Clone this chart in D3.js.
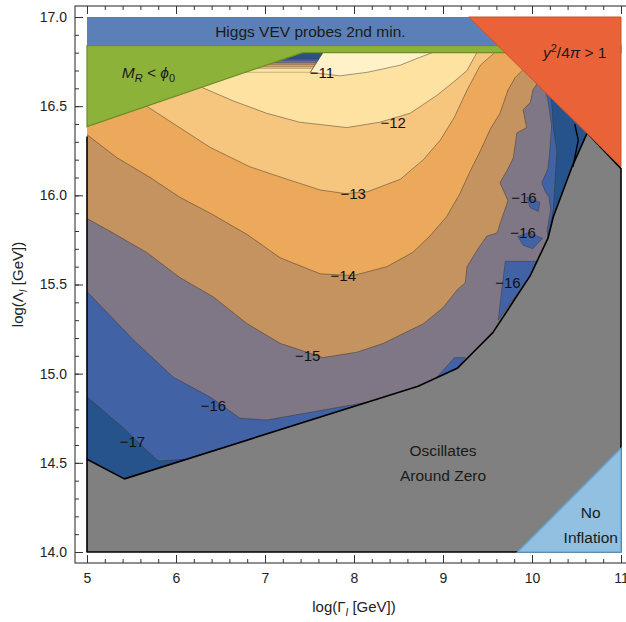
<!DOCTYPE html>
<html>
<head>
<meta charset="utf-8">
<script src="https://cdnjs.cloudflare.com/ajax/libs/d3/7.8.5/d3.min.js"></script>
<style>
  body { margin: 0; background: #fff; }
  text { font-family: "Liberation Sans", Arial, sans-serif; }
</style>
</head>
<body>
<div id="chart"></div>
<script>
// contour lines, points are [log Gamma_I, log Lambda_I]
var c11 = [[7.65,16.80],[7.51,16.69],[7.84,16.67],[8.15,16.69],[8.52,16.73],[8.72,16.77],[8.88,16.80]];
var c12 = [[6.27,16.61],[6.64,16.53],[7.02,16.46],[7.39,16.41],[7.92,16.38],[8.29,16.41],[8.63,16.46],
           [8.93,16.56],[9.13,16.64],[9.27,16.70],[9.38,16.80]];
var c13 = [[5.67,16.50],[6.01,16.39],[6.38,16.27],[6.83,16.16],[7.25,16.09],[7.62,16.03],[7.90,16.01],
           [8.15,16.02],[8.52,16.09],[8.78,16.20],[8.97,16.31],[9.13,16.44],[9.27,16.59],[9.42,16.73],[9.58,16.80]];
var c14 = [[5.00,16.34],[5.34,16.21],[5.71,16.10],[6.04,15.99],[6.42,15.89],[6.80,15.78],[7.17,15.65],
           [7.62,15.56],[7.99,15.55],[8.37,15.60],[8.66,15.68],[8.85,15.77],[9.04,15.88],[9.19,16.01],
           [9.30,16.13],[9.42,16.25],[9.53,16.37],[9.64,16.46],[9.73,16.59],[9.81,16.66],[9.89,16.70]];
var c15 = [[5.00,15.87],[5.29,15.79],[5.67,15.68],[6.04,15.54],[6.42,15.43],[6.80,15.28],[7.17,15.17],
           [7.65,15.09],[8.03,15.12],[8.33,15.17],[8.78,15.28],[9.00,15.37],[9.16,15.47],[9.25,15.51],
           [9.27,15.60],[9.38,15.69],[9.49,15.77],[9.61,15.79],[9.64,15.84],[9.73,15.97],[9.64,16.07],
           [9.72,16.14],[9.79,16.21],[9.83,16.35],[9.94,16.38],[9.90,16.48],[9.98,16.52],[10.01,16.59],[10.09,16.65]];
var c16left = [[5.00,15.46],[5.52,15.19],[5.97,14.98],[6.38,14.87],[6.72,14.75],[7.02,14.74],[8.15,14.84]];
var c16right = [[10.15,16.59],[10.18,16.53],[10.22,16.39],[10.20,16.25],[10.18,16.15],[10.11,16.07],
                [10.15,16.02],[10.19,15.99],[10.21,15.92],[10.17,15.80],[10.18,15.76]];
var c17left = [[5.00,14.87],[5.40,14.70],[5.67,14.57],[5.80,14.51],[6.10,14.52]];
var c17right = [[10.21,16.55],[10.22,16.52],[10.24,16.38],[10.28,16.25],[10.26,16.09],[10.24,15.92],[10.18,15.76]];
// small -16 islands on the right
var islands = [
  [[9.94,15.99],[10.09,15.96],[10.07,15.91],[9.98,15.93]],
  [[9.84,15.77],[9.96,15.79],[10.12,15.76],[10.01,15.70],[9.90,15.72]],
  [[9.70,15.63],[10.05,15.63],[9.98,15.55],[9.62,15.30],[9.66,15.47]],
  [[8.93,14.98],[9.13,15.09],[9.25,15.09],[9.16,15.03]]
];
// the crowded strip of levels under the green wedge
var wedgeEdge = [[7.65,16.80],[7.51,16.69]];
var wedgeBreaks = [16.80,16.765,16.752,16.742,16.732,16.722,16.712,16.69];
// boundary of the "oscillates around zero" region
var blackLine = [[5.00,14.52],[5.42,14.41],[8.72,14.93],[9.16,15.03],[9.36,15.13],[9.56,15.23],
                 [9.98,15.55],[10.18,15.76],[10.24,15.88],[10.45,16.16],[10.62,16.35]];
var blackExtra = [[10.48,16.40],[10.52,16.31],[10.46,16.16]];
// excluded regions
var higgsBand = [[5,17],[11,17],[11,16.84],[5,16.84]];
var greenRegion = [[5,16.84],[11,16.84],[11,16.80],[7.42,16.80],[5,16.385]];
var couplingTri = [[9.29,17],[11,17],[11,16.16]];
var noInflTri = [[9.84,14],[11,14.58],[11,14]];

var contourLabels = [
  ["\u221211", 7.64, 16.69], ["\u221212", 8.44, 16.41], ["\u221213", 7.99, 16.01], ["\u221214", 7.88, 15.55],
  ["\u221215", 7.48, 15.10], ["\u221216", 6.42, 14.82], ["\u221217", 5.51, 14.62],
  ["\u221216", 9.91, 15.99], ["\u221216", 9.90, 15.79], ["\u221216", 9.73, 15.51]
];
var xTicks = [5, 6, 7, 8, 9, 10, 11];
var yTicks = [14.0, 14.5, 15.0, 15.5, 16.0, 16.5, 17.0];

var svgWidth = 626;
var svgHeight = 622;

var colors = {
  dark: "#27538d", med: "#4163a6", purple: "#807786", tan: "#c59360", orange: "#eca95b",
  lightOrange: "#f6c67f", pale: "#fde2a1", palest: "#fff2c8"
};

var svg = d3.select("#chart").append("svg")
    .attr("width", svgWidth)
    .attr("height", svgHeight);

var x = d3.scaleLinear().domain([5, 11]).range([87, 621]);
var y = d3.scaleLinear().domain([14, 17]).range([552, 17]);
var frame = {left: 75, right: 633, top: 6, bottom: 563};

var line = d3.line().x(d => x(d[0])).y(d => y(d[1]));
function poly(pts) { return line(pts) + "Z"; }

svg.append("clipPath").attr("id", "clip")
  .append("rect").attr("x", x(5)).attr("y", y(17))
  .attr("width", x(11) - x(5)).attr("height", y(14) - y(17));

var plot = svg.append("g").attr("clip-path", "url(#clip)");

function fillArea(pts, fill) {
  plot.append("path").attr("d", poly(pts)).attr("fill", fill);
}

// base band (-17 .. -16)
fillArea([[5,14],[11,14],[11,17],[5,17]], colors.med);
// below -17
fillArea(c17left.concat([[6.10,14],[5,14]]), colors.dark);
fillArea(c17right.concat(blackLine.slice(8), [[10.5,16.8]]), colors.dark);
// superlevel sets, lowest first
fillArea([[5,17]].concat(c16left, blackLine.slice(2, 7), c16right.slice().reverse(), [[10.0,17]]), colors.purple);
fillArea([[5,17]].concat(c15, [[10.09,17]]), colors.tan);
fillArea(c14.concat([[9.89,17],[5,17]]), colors.orange);
fillArea(c13.concat([[9.58,16.84],[5.67,16.84]]), colors.lightOrange);
fillArea(c12.concat([[9.38,16.84],[6.27,16.84]]), colors.pale);
fillArea(c11, colors.palest);

// crowded wedge under the green region
var wedgeColors = [colors.dark, colors.med, colors.purple, colors.tan, colors.orange, colors.lightOrange, colors.pale];
var g0 = greenRegion[4], g1 = greenRegion[3];
function diagX(v) { return g0[0] + (v - g0[1]) / (g1[1] - g0[1]) * (g1[0] - g0[0]); }
function edgeX(v) {
  var a = wedgeEdge[0], b = wedgeEdge[1];
  return a[0] + (v - a[1]) / (b[1] - a[1]) * (b[0] - a[0]);
}
wedgeColors.forEach(function(c, i) {
  var v0 = wedgeBreaks[i], v1 = wedgeBreaks[i + 1];
  var pts = [[diagX(v0), v0], [edgeX(v0), v0], [edgeX(v1), v1], [diagX(v1), v1]];
  plot.append("path").attr("d", poly(pts)).attr("fill", c)
    .attr("stroke", "rgba(60,45,35,0.45)").attr("stroke-width", 0.6);
});

islands.forEach(function(isl) {
  plot.append("path").attr("d", poly(isl)).attr("fill", colors.med)
    .attr("stroke", "rgba(50,45,45,0.55)").attr("stroke-width", 0.7);
});

// contour lines
[c11, c12, c13, c14, c15, c16left, c16right, c17left, c17right].forEach(function(c) {
  plot.append("path").attr("d", line(c)).attr("fill", "none")
    .attr("stroke", "rgba(60,48,38,0.6)").attr("stroke-width", 0.8);
});

// oscillation region
svg.append("path")
  .attr("d", poly([[5,14]].concat(blackLine, [[11,16.15],[11,14]])))
  .attr("fill", "#808080").attr("stroke", "#000").attr("stroke-width", 1.6)
  .attr("stroke-linejoin", "round");
svg.append("path").attr("d", line([[5,16.33],[5,14.52]]))
  .attr("stroke", "#000").attr("stroke-width", 1.6);
svg.append("path").attr("d", line(blackExtra)).attr("fill", "none")
  .attr("stroke", "#000").attr("stroke-width", 1.4);

svg.append("path").attr("d", poly(higgsBand)).attr("fill", "#5b80b7");
svg.append("path").attr("d", poly(greenRegion)).attr("fill", "#8db23a")
  .attr("stroke", "#6c8e25").attr("stroke-width", 1.2);
svg.append("path").attr("d", poly(couplingTri)).attr("fill", "#ea6238")
  .attr("stroke", "#c9522c").attr("stroke-width", 1);
svg.append("path").attr("d", poly(noInflTri)).attr("fill", "#91c0e0")
  .attr("stroke", "#6aa8d6").attr("stroke-width", 1.5);

// contour labels
svg.append("g").selectAll("text")
  .data(contourLabels)
  .enter()
  .append("text")
  .attr("x", d => x(d[1]))
  .attr("y", d => y(d[2]))
  .attr("dy", "0.36em")
  .attr("text-anchor", "middle")
  .attr("font-size", 15)
  .attr("fill", "#111")
  .text(d => d[0]);

// region labels
function label(tx, ty, parts) {
  var t = svg.append("text").attr("x", x(tx)).attr("y", y(ty)).attr("dy", "0.36em")
    .attr("text-anchor", "middle").attr("font-size", 15.5).attr("fill", "#1a1a1a");
  parts.forEach(function(p) {
    var s = t.append("tspan").text(p.t);
    if (p.i) s.attr("font-style", "italic");
    if (p.size) s.attr("font-size", p.size);
    if (p.dy) s.attr("dy", p.dy);
  });
  return t;
}
label(7.51, 16.92, [{t: "Higgs VEV probes 2nd min."}]);
label(5.69, 16.69, [{t: "M", i: 1}, {t: "R", i: 1, size: 11, dy: 4}, {t: " < ", dy: -4}, {t: "\u03d5", i: 1}, {t: "0", size: 11, dy: 4}]);
label(10.48, 16.80, [{t: "y", i: 1}, {t: "2", size: 11, dy: -6}, {t: "/4", dy: 6}, {t: "\u03c0", i: 1}, {t: " > 1"}]);
label(9.0, 14.57, [{t: "Oscillates"}]);
label(9.0, 14.43, [{t: "Around Zero"}]);
label(10.66, 14.22, [{t: "No"}]);
label(10.66, 14.08, [{t: "Inflation"}]);

// frame and ticks
svg.append("rect")
  .attr("x", frame.left).attr("y", frame.top)
  .attr("width", frame.right - frame.left).attr("height", frame.bottom - frame.top)
  .attr("fill", "none").attr("stroke", "#222").attr("stroke-width", 1);

function styleAxis(g) {
  g.select(".domain").remove();
  g.selectAll("line").attr("stroke", "#333");
  g.selectAll("text").attr("font-family", "Liberation Sans, Arial, sans-serif")
    .attr("font-size", 14).attr("fill", "#222");
}
var minorX = d3.range(50, 111, 2).map(d => d / 10);
var minorY = d3.range(140, 171, 1).map(d => d / 10);

svg.append("g").attr("transform", `translate(0, ${frame.bottom})`)
  .call(d3.axisBottom(x).tickValues(minorX).tickSize(-4).tickFormat("")).call(styleAxis);
svg.append("g").attr("transform", `translate(0, ${frame.bottom})`)
  .call(d3.axisBottom(x).tickValues(xTicks).tickSize(-8).tickPadding(10).tickFormat(d3.format("d"))).call(styleAxis);
svg.append("g").attr("transform", `translate(0, ${frame.top})`)
  .call(d3.axisTop(x).tickValues(minorX).tickSize(-4).tickFormat("")).call(styleAxis);
svg.append("g").attr("transform", `translate(0, ${frame.top})`)
  .call(d3.axisTop(x).tickValues(xTicks).tickSize(-8).tickFormat("")).call(styleAxis);
svg.append("g").attr("transform", `translate(${frame.left}, 0)`)
  .call(d3.axisLeft(y).tickValues(minorY).tickSize(-4).tickFormat("")).call(styleAxis);
svg.append("g").attr("transform", `translate(${frame.left}, 0)`)
  .call(d3.axisLeft(y).tickValues(yTicks).tickSize(-8).tickPadding(8).tickFormat(d3.format(".1f"))).call(styleAxis);
svg.append("g").attr("transform", `translate(${frame.right}, 0)`)
  .call(d3.axisRight(y).tickValues(minorY).tickSize(-4).tickFormat("")).call(styleAxis);

// axis titles
var xt = svg.append("text")
  .attr("x", (x(5) + x(11)) / 2).attr("y", 612)
  .attr("text-anchor", "middle").attr("font-size", 15).attr("fill", "#222");
xt.append("tspan").text("log(\u0393");
xt.append("tspan").text("I").attr("font-style", "italic").attr("font-size", 10).attr("dy", 4);
xt.append("tspan").text(" [GeV])").attr("dy", -4);

var yt = svg.append("text")
  .attr("transform", `translate(23, ${(y(14) + y(17)) / 2}) rotate(-90)`)
  .attr("text-anchor", "middle").attr("font-size", 15).attr("fill", "#222");
yt.append("tspan").text("log(\u039b");
yt.append("tspan").text("I").attr("font-style", "italic").attr("font-size", 10).attr("dy", 4);
yt.append("tspan").text(" [GeV])").attr("dy", -4);
</script>
</body>
</html>
